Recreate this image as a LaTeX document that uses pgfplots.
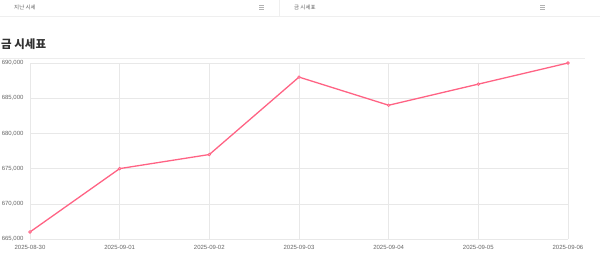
\documentclass[border=0pt]{standalone}
\usepackage{pgfplots}
\pgfplotsset{compat=1.18}
\usepackage{fontspec}
\setmainfont{Liberation Sans}
\newfontfamily\kr{Noto Sans CJK KR}
\definecolor{pinkline}{RGB}{255,99,132}
\definecolor{gridc}{RGB}{232,232,232}
\definecolor{ticktext}{RGB}{102,102,102}
\begin{document}
\begin{tikzpicture}
\path[use as bounding box] (0pt,0pt) rectangle (600pt,-260pt);
% top tab bar
\draw[gridc!70, line width=0.6pt] (0pt,-16.5pt) -- (600pt,-16.5pt);
\draw[gridc!70, line width=0.6pt] (279pt,0pt) -- (279pt,-16.5pt);
\node[anchor=west, font=\kr\fontsize{5.5}{6}\selectfont, text=black!60, inner sep=0] at (14pt,-7pt) {지난 시세};
\node[anchor=west, font=\kr\fontsize{5.5}{6}\selectfont, text=black!60, inner sep=0] at (294pt,-7pt) {금 시세표};
\foreach \hx in {259,540}{
  \foreach \hy in {-5,-7,-9}{
    \draw[black!30, line width=0.9pt] (\hx pt,\hy pt) -- ({(\hx+5)*1pt},\hy pt);
  }
}
% title
\node[anchor=west, font=\kr\bfseries\fontsize{11.5}{13}\selectfont, text=black!80, inner sep=0] at (1pt,-44pt) {금 시세표};
\draw[gridc!80, line width=0.6pt] (0pt,-58pt) -- (585pt,-58pt);
\begin{axis}[
  at={(30pt,-239pt)}, anchor=south west,
  scale only axis, width=538pt, height=176pt,
  xmin=0, xmax=6, ymin=665000, ymax=690000,
  clip=false,
  scaled y ticks=false,
  xtick={0,1,2,3,4,5,6},
  xticklabels={2025-08-30,2025-09-01,2025-09-02,2025-09-03,2025-09-04,2025-09-05,2025-09-06},
  ytick={665000,670000,675000,680000,685000,690000},
  yticklabels={{665,000},{670,000},{675,000},{680,000},{685,000},{690,000}},
  axis lines=left,
  axis line style={gridc, -, line width=0.6pt},
  grid=major,
  major grid style={gridc, line width=0.5pt},
  major tick length=0pt,
  tick label style={font=\fontsize{6}{7}\selectfont, text=ticktext},
  yticklabel style={xshift=-3pt},
  xticklabel style={yshift=-3pt},
]
\addplot[pinkline, line width=1.3pt, mark=*, mark size=1.4pt,
  mark options={fill=pinkline!60, draw=pinkline, line width=0.6pt}]
  coordinates {(0,666000)(1,675000)(2,677000)(3,688000)(4,684000)(5,687000)(6,690000)};
\end{axis}
\end{tikzpicture}
\end{document}
